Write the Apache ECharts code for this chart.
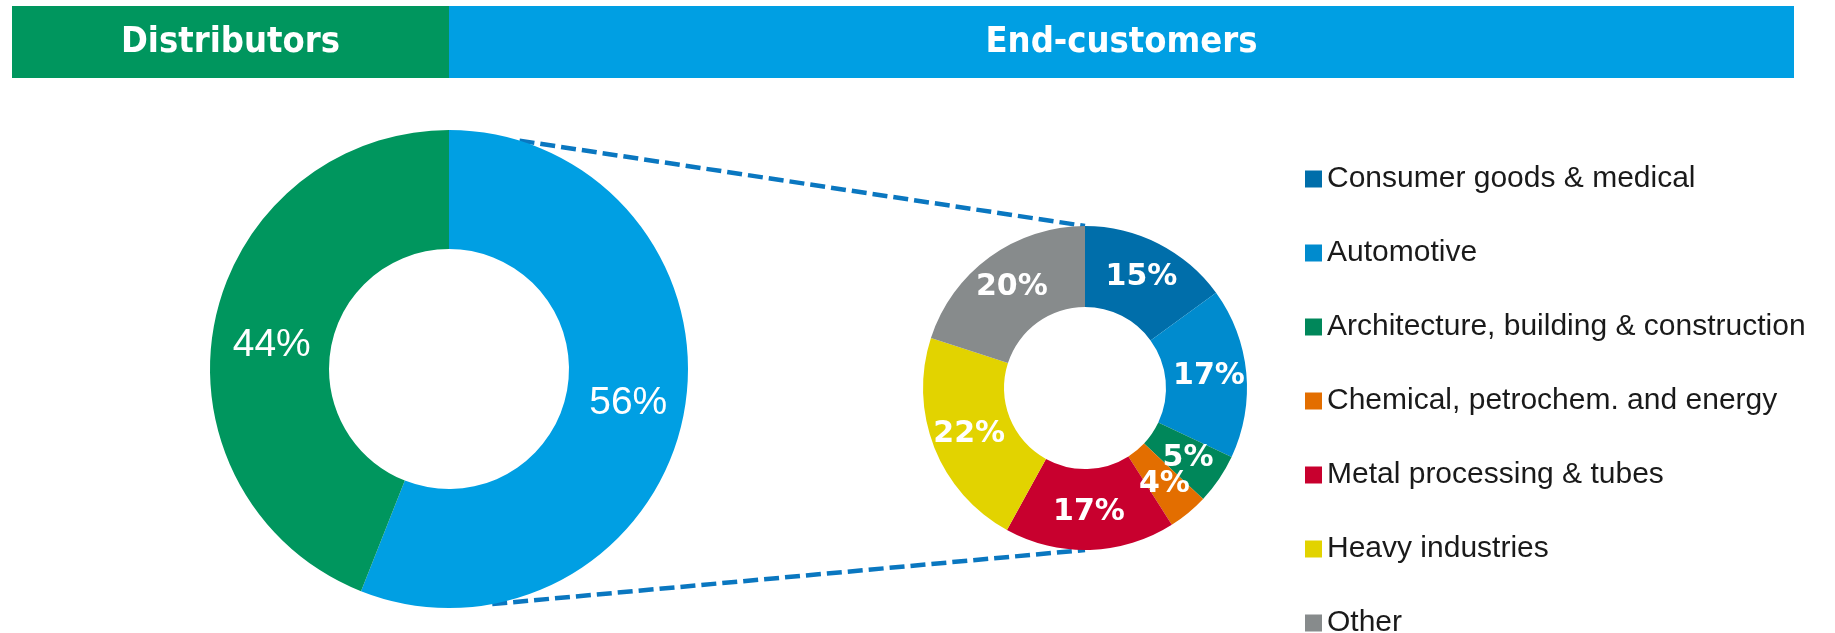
<!DOCTYPE html>
<html>
<head>
<meta charset="utf-8">
<script src="https://cdn.jsdelivr.net/npm/echarts@6/dist/echarts.min.js"></script>
<style>
  html, body { margin: 0; padding: 0; background: #ffffff; }
  #chart { width: 1835px; height: 633px; }
</style>
</head>
<body>
<div id="chart"></div>
<script>
// split of sales: distributors vs end-customers
var channelNames = ['End-customers', 'Distributors'];
var channelValues = [56, 44];
var channelColors = ['#009FE3', '#00965E'];

// end-customer breakdown
var sectorNames = [
  'Consumer goods & medical',
  'Automotive',
  'Architecture, building & construction',
  'Chemical, petrochem. and energy',
  'Metal processing & tubes',
  'Heavy industries',
  'Other'
];
var sectorValues = [15, 17, 5, 4, 17, 22, 20];
var sectorColors = ['#006EAA', '#008BCE', '#00875A', '#E36E00', '#C8002E', '#E2D300', '#878B8C'];

// header boxes
var headerTitles = ['Distributors', 'End-customers'];

// layout
var big = { cx: 449, cy: 369, r0: 120, r: 239 };
var small = { cx: 1085, cy: 388, r0: 81, r: 162 };
var head = { top: 6, height: 72, left: 12, split: 449, right: 1794 };

var chartDom = document.getElementById('chart');
var myChart = echarts.init(chartDom);
var option;

var headFont = '"DejaVu Sans Condensed", "Liberation Sans", sans-serif';
var dash = { stroke: '#0A77C0', lineWidth: 4.5, lineDash: [15, 6] };

// connector from point a (on the big circle) to point b; start where it leaves the big circle
function connector(ay, by) {
  var ax = big.cx, bx = small.cx;
  var dx = bx - ax, dy = by - ay;
  var t = -2 * ((ax - big.cx) * dx + (ay - big.cy) * dy) / (dx * dx + dy * dy);
  return {
    type: 'line', z: 0,
    shape: { x1: ax + dx * t, y1: ay + dy * t, x2: bx, y2: by },
    style: dash
  };
}

option = {
  backgroundColor: '#ffffff',
  animation: false,

  legend: {
    orient: 'vertical',
    left: 1305,
    top: 164,
    height: 520,
    padding: 0,
    icon: 'rect',
    itemWidth: 17,
    itemHeight: 17,
    itemGap: 44,
    selectedMode: false,
    data: sectorNames,
    textStyle: {
      fontFamily: '"Liberation Sans", Arial, sans-serif',
      fontSize: 30,
      color: '#1a1a1a'
    }
  },

  graphic: [
    {
      type: 'rect', z: 10,
      shape: { x: head.left, y: head.top, width: head.split - head.left, height: head.height },
      style: { fill: channelColors[1] }
    },
    {
      type: 'rect', z: 10,
      shape: { x: head.split, y: head.top, width: head.right - head.split, height: head.height },
      style: { fill: channelColors[0] }
    },
    {
      type: 'text', z: 11,
      x: (head.left + head.split) / 2, y: head.top + head.height / 2 + 1,
      style: {
        text: headerTitles[0], fill: '#ffffff', align: 'center', verticalAlign: 'middle',
        font: 'bold 36px ' + headFont
      }
    },
    {
      type: 'text', z: 11,
      x: (head.split + head.right) / 2, y: head.top + head.height / 2 + 1,
      style: {
        text: headerTitles[1], fill: '#ffffff', align: 'center', verticalAlign: 'middle',
        font: 'bold 36px ' + headFont
      }
    },
    // zoom connector lines, drawn under the pies
    connector(big.cy - big.r, small.cy - small.r),
    connector(big.cy + big.r, small.cy + small.r)
  ],

  series: [
    {
      name: 'Channel',
      type: 'pie',
      z: 2,
      center: [big.cx, big.cy],
      radius: [big.r0, big.r],
      startAngle: 90,
      silent: true,
      label: {
        position: 'inside',
        formatter: '{c}%',
        color: '#ffffff',
        fontSize: 39,
        fontFamily: '"Liberation Sans", Arial, sans-serif'
      },
      labelLine: { show: false },
      labelLayout: { hideOverlap: false },
      data: channelNames.map(function (n, i) {
        var d = { name: n, value: channelValues[i], itemStyle: { color: channelColors[i] } };
        if (i === 1) d.label = { offset: [2, 10] };
        return d;
      })
    },
    {
      name: 'End-customers',
      type: 'pie',
      z: 2,
      center: [small.cx, small.cy],
      radius: [small.r0, small.r],
      startAngle: 90,
      silent: true,
      label: {
        position: 'inside',
        formatter: '{c}%',
        color: '#ffffff',
        fontSize: 30,
        fontWeight: 'bold',
        fontFamily: '"DejaVu Sans", sans-serif'
      },
      labelLine: { show: false },
      labelLayout: { hideOverlap: false },
      data: sectorNames.map(function (n, i) {
        return { name: n, value: sectorValues[i], itemStyle: { color: sectorColors[i] } };
      })
    }
  ]
};

myChart.setOption(option);
</script>
</body>
</html>
